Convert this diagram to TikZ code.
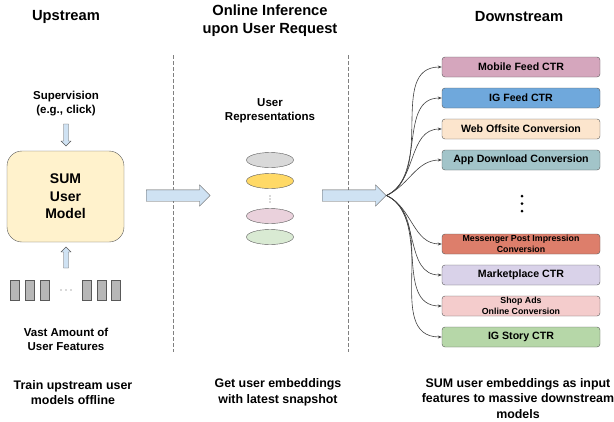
\documentclass[tikz,border=0pt]{standalone}
\usepackage{fontspec}
\setmainfont{Liberation Sans}
\usepackage{tikz}
\usetikzlibrary{arrows.meta,shapes.geometric,shapes.arrows,positioning}
\usepackage{xcolor}

\definecolor{edgegray}{HTML}{595959}
\definecolor{fangray}{HTML}{404040}
\definecolor{arrowblue}{HTML}{CFE2F3}
\definecolor{sumyellow}{HTML}{FFF2CC}
\definecolor{bargray}{HTML}{B7B7B7}
\definecolor{mobilec}{HTML}{D5A6BD}
\definecolor{igfeedc}{HTML}{6FA8DC}
\definecolor{webc}{HTML}{FCE5CD}
\definecolor{appc}{HTML}{A2C4C9}
\definecolor{messengerc}{HTML}{DD7E6B}
\definecolor{marketc}{HTML}{D9D2E9}
\definecolor{shopc}{HTML}{F4CCCC}
\definecolor{storyc}{HTML}{B6D7A8}

\begin{document}
\begin{tikzpicture}[x=1pt, y=-1pt, >={Stealth[length=4pt,width=3pt]}, node distance=31pt,
    headtxt/.style={font=\bfseries\fontsize{14.7}{18}\selectfont, align=center},
    note/.style={font=\bfseries\fontsize{11.5}{14}\selectfont, align=center},
    bottomtxt/.style={font=\bfseries\fontsize{12.4}{15.5}\selectfont, align=center},
    task/.style={rectangle, rounded corners=3pt, draw=edgegray, minimum width=158pt, minimum height=20pt, inner sep=0pt, font=\bfseries\fontsize{10.6}{12}\selectfont, align=center},
    smalltask/.style={task, font=\bfseries\fontsize{8.8}{11}\selectfont},
    sumbox/.style={rectangle, rounded corners=15pt, draw=edgegray, fill=sumyellow, minimum width=117pt, minimum height=91pt, font=\bfseries\fontsize{14}{17.5}\selectfont, align=center},
    embed/.style={ellipse, draw=edgegray, minimum width=47pt, minimum height=15pt, inner sep=0pt},
    feat/.style={rectangle, draw=edgegray, fill=bargray, minimum width=9pt, minimum height=20pt, inner sep=0pt},
    bigarrow/.style={single arrow, draw=edgegray, fill=arrowblue, inner sep=0pt, text height=5.5pt, text depth=5.5pt, single arrow head extend=5pt, minimum height=64pt, anchor=tail},
    blockfill/.style={draw=edgegray, fill=arrowblue, line join=miter},
    fanline/.style={->, draw=fangray, line width=0.6pt},
    divider/.style={draw=gray, line width=0.7pt, dash pattern=on 4pt off 2pt}]
    \useasboundingbox (0,0) rectangle (614,421);

    % column titles
    \node[headtxt] (upTitle) at (66,17) {Upstream};
    \node[headtxt] (onlineTitle) at (270,21) {Online Inference\\upon User Request};
    \node[headtxt] (downTitle) at (519,17) {Downstream};

    \draw[divider] (173,55) -- (173,352);
    \draw[divider] (348,55) -- (348,352);

    % upstream
    \node[note] (supervision) at (66,104) {Supervision\\(e.g., click)};
    \draw[blockfill] (63.5,124) -- (68.5,124) -- (68.5,141) -- (71,141) -- (66,146) -- (61,141) -- (63.5,141) -- cycle;
    \node[sumbox] (sum) at (65.5,196.5) {SUM\\User\\Model};
    \draw[blockfill] (63.5,268) -- (68.5,268) -- (68.5,252) -- (71,252) -- (66,247) -- (61,252) -- (63.5,252) -- cycle;
    \foreach \x in {15,30,45,87,102,116}
        \node[feat] (f\x) at (\x,290) {};
    \foreach \x in {61,66,71}
        \fill[edgegray] (\x,290) circle (0.7);
    \node[note] (features) at (66,339) {Vast Amount of\\User Features};
    \node[bottomtxt] (trainTxt) at (73,392.5) {Train upstream user\\models offline};

    % online inference
    \node[bigarrow] (toReps) at (146,195.5) {};
    \node[note] (repsTxt) at (270,111) {User\\Representations};
    \node[embed, fill={rgb,255:red,217;green,217;blue,217}] (e1) at (270,160) {};
    \node[embed, fill={rgb,255:red,255;green,217;blue,102}] (e2) at (270,181) {};
    \foreach \y in {196,199,202}
        \fill[edgegray] (270,\y) circle (0.6);
    \node[embed, fill={rgb,255:red,234;green,209;blue,220}] (e3) at (270,216) {};
    \node[embed, fill={rgb,255:red,217;green,234;blue,211}] (e4) at (270,237) {};
    \node[bottomtxt] (getTxt) at (278,392.5) {Get user embeddings\\with latest snapshot};

    % downstream
    \node[bigarrow] (toDown) at (322,195.5) {};
    \node[task, fill=mobilec] (mobile) at (521,67) {Mobile Feed CTR};
    \node[task, fill=igfeedc] (igfeed) [below of=mobile] {IG Feed CTR};
    \node[task, fill=webc] (web) [below of=igfeed] {Web Offsite Conversion};
    \node[task, fill=appc] (app) [below of=web] {App Download Conversion};
    \foreach \y in {196,203.5,211}
        \fill (522,\y) circle (1.5);
    \node[smalltask, fill=messengerc] (messenger) at (521,244) {Messenger Post Impression\\Conversion};
    \node[task, fill=marketc] (market) [below of=messenger] {Marketplace CTR};
    \node[smalltask, fill=shopc] (shop) [below of=market] {Shop Ads\\Online Conversion};
    \node[task, fill=storyc] (story) [below of=shop] {IG Story CTR};

    \foreach \t in {mobile,igfeed,web,app}
        \draw[fanline] (toDown.tip) to[out=25, in=180] (\t.west);
    \foreach \t in {messenger,market,shop,story}
        \draw[fanline] (toDown.tip) to[out=-25, in=180] (\t.west);

    \node[bottomtxt] (sumTxt) at (518,398.5) {SUM user embeddings as input\\features to massive downstream\\models};
\end{tikzpicture}
\end{document}
